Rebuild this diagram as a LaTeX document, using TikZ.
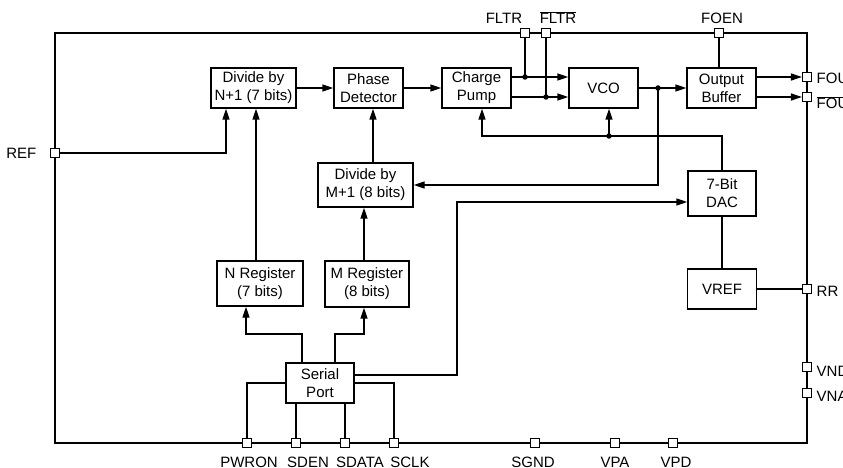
\documentclass[tikz,border=0pt]{standalone}
\usepackage{fontspec}
\setmainfont{Liberation Sans}
\usetikzlibrary{arrows.meta,calc}
\newcommand{\barsig}[1]{$\overline{\hbox{#1}}$}
\tikzset{
  block/.style={draw, line width=1.4pt, align=center, inner sep=0pt, minimum height=40pt},
  pad/.style={draw, fill=white, line width=1.1pt, minimum size=9pt, inner sep=0pt},
  sig/.style={-{Triangle[length=11pt,width=7pt]}},
  padlabel/.style={inner sep=0pt, anchor=base},
  dot/.style={circle, fill, inner sep=0pt, minimum size=5.5pt}
}

\begin{document}
\begin{tikzpicture}[x=1pt,y=-1pt,line width=1.4pt,font=\fontsize{15}{18}\selectfont]
  \useasboundingbox (0,0) rectangle (843,468);
  % chip outline
  \draw (55,33) rectangle (807,443);

  % blocks
  \node[block, minimum width=85pt] (divn) at (253.5,88) {Divide by\\N+1 (7 bits)};
  \node[block, minimum width=69pt] (phase) at (368.5,88) {Phase\\Detector};
  \node[block, minimum width=69pt] (pump) at (476.5,88) {Charge\\Pump};
  \node[block, minimum width=69pt] (vco) at (603.5,88) {VCO};
  \node[block, minimum width=69pt] (obuf) at (721.5,88) {Output\\Buffer};
  \node[block, minimum width=95pt, minimum height=44pt] (divm) at (365.5,185) {Divide by\\M+1 (8 bits)};
  \node[block, minimum width=68pt, minimum height=45pt] (dac) at (722,193.5) {7-Bit\\DAC};
  \node[block, minimum width=69pt] (vref) at (722,289) {VREF};
  \node[block, minimum width=86pt, minimum height=45pt] (nreg) at (260,283.5) {N Register\\(7 bits)};
  \node[block, minimum width=84pt, minimum height=46pt] (mreg) at (367,284) {M Register\\(8 bits)};
  \node[block, minimum width=68pt] (sport) at (320,383) {Serial\\Port};

  % pads
  \node[pad] (ref) at (55,153) {};
  \node[pad] (fltr) at (525,33) {};
  \node[pad] (fltrb) at (546,33) {};
  \node[pad] (foen) at (719,33) {};
  \node[pad] (fout) at (807,77) {};
  \node[pad] (foutb) at (807,97) {};
  \node[pad] (rr) at (807,289) {};
  \node[pad] (vnd) at (807,367) {};
  \node[pad] (vna) at (807,393) {};
  \node[pad] (pwron) at (247,443) {};
  \node[pad] (sden) at (296,443) {};
  \node[pad] (sdata) at (345,443) {};
  \node[pad] (sclk) at (394,443) {};
  \node[pad] (sgnd) at (535,443) {};
  \node[pad] (vpa) at (615,443) {};
  \node[pad] (vpd) at (673,443) {};

  % pad labels
  \node[padlabel, anchor=base east] at (37,158) {REF};
  \node[padlabel] at (504,24) {FLTR};
  \node[padlabel] at (558,24) {\barsig{FLTR}};
  \node[padlabel] at (722,24) {FOEN};
  \node[padlabel, anchor=base west] at (816,84) {FOU};
  \node[padlabel, anchor=base west] at (816,109) {\barsig{FOU}};
  \node[padlabel, anchor=base west] at (816,296) {RR};
  \node[padlabel, anchor=base west] at (816,376) {VND};
  \node[padlabel, anchor=base west] at (816,401) {VNA};
  \node[padlabel] at (249,467) {PWRON};
  \node[padlabel] at (308,467) {SDEN};
  \node[padlabel] at (360,467) {SDATA};
  \node[padlabel] at (410,467) {SCLK};
  \node[padlabel] at (533,467) {SGND};
  \node[padlabel] at (615,467) {VPA};
  \node[padlabel] at (676,467) {VPD};

  % signal path
  \draw[sig] (ref.east) -| (divn.south -| 226,0);
  \draw[sig] (nreg.north -| 256,0) -- (divn.south -| 256,0);
  \draw[sig] (divn) -- (phase);
  \draw[sig] (phase) -- (pump);
  \draw[sig] (divm.north -| 373,0) -- (phase.south -| 373,0);
  \draw[sig] (mreg.north -| 364,0) -- (divm.south -| 364,0);
  \draw[sig] (pump.east |- 0,77) -- (vco.west |- 0,77);
  \draw[sig] (pump.east |- 0,97) -- (vco.west |- 0,97);
  \node[dot] (jf) at (525,77) {};
  \node[dot] (jfb) at (546,97) {};
  \draw (jf.center) -- (fltr);
  \draw (jfb.center) -- (fltrb);
  \draw[sig] (vco) -- (obuf);
  \node[dot] (vout) at (658,88) {};
  \draw[sig] (vout.center) |- (divm.east);
  \draw[sig] (obuf.east |- fout) -- (fout.west);
  \draw[sig] (obuf.east |- foutb) -- (foutb.west);
  \draw (foen) -- (obuf.north -| foen);

  % bias from DAC
  \draw[sig] (dac.north) |- (482,136) -- (pump.south -| 482,0);
  \node[dot] (jv) at (609,136) {};
  \draw[sig] (jv.center) -- (vco.south -| jv);
  \draw (dac) -- (vref);
  \draw (vref) -- (rr);

  % serial port
  \draw[sig] (sport.east |- 0,375) -| (457,202) -- (dac.west |- 0,202);
  \draw (sport.east |- 0,383) -| (sclk);
  \draw (sport.west |- 0,383) -| (pwron);
  \draw (sport.south -| sden) -- (sden);
  \draw (sport.south -| sdata) -- (sdata);
  \draw[sig] (sport.north -| 302,0) |- (246,334) -- (nreg.south -| 246,0);
  \draw[sig] (sport.north -| 335,0) |- (364,334) -- (mreg.south -| 364,0);
\end{tikzpicture}
\end{document}
